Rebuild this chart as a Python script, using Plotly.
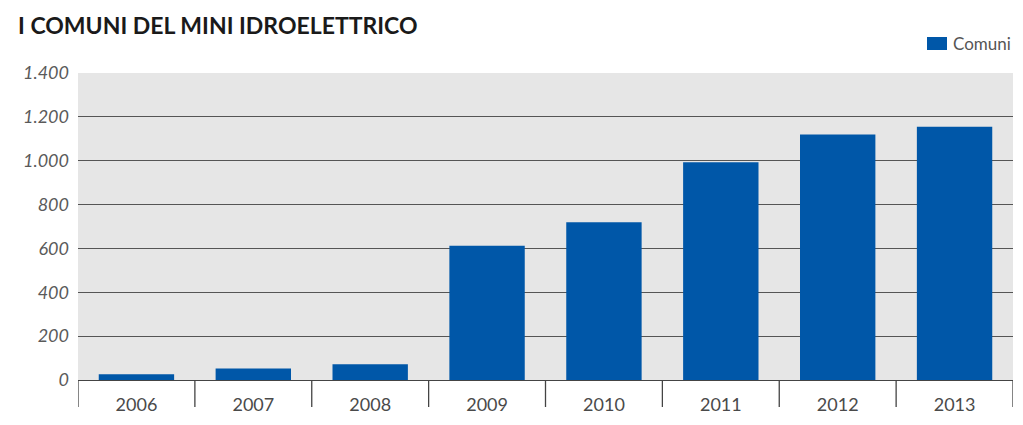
import plotly.graph_objects as go

years = ["2006", "2007", "2008", "2009", "2010", "2011", "2012", "2013"]
comuni = [26, 52, 72, 612, 719, 993, 1120, 1155]
y_ticks = [0, 200, 400, 600, 800, 1000, 1200, 1400]
y_ticktext = ["0", "200", "400", "600", "800", "1.000", "1.200", "1.400"]
series_name = "Comuni"

BLUE = "#0057A8"
FONT = "Lato"

fig = go.Figure()
fig.add_trace(go.Bar(
    x=years, y=comuni, name=series_name,
    marker=dict(color=BLUE, line=dict(width=0)),
    width=0.645, showlegend=False,
))

W, H = 1023, 425
L, R, T, B = 78, 10, 73, 45
plot_h = H - T - B
plot_w = W - L - R

def px_x(px):
    return (px - L) / plot_w

def px_y(py):
    return (H - B - py) / plot_h

# separators between categories
for i in range(len(years) + 1):
    fig.add_shape(type="line", xref="x", yref="paper",
                  x0=i - 0.5, x1=i - 0.5, y0=0, y1=-27 / plot_h,
                  line=dict(color="#444444", width=1.3))

# legend swatch and label
fig.add_shape(type="rect", xref="paper", yref="paper",
              x0=px_x(927), x1=px_x(947), y0=px_y(50), y1=px_y(37),
              fillcolor=BLUE, line=dict(width=0))
fig.add_annotation(xref="paper", yref="paper", x=px_x(951), y=px_y(44),
                   xanchor="left", yanchor="middle", showarrow=False,
                   text=series_name,
                   font=dict(family=FONT, size=17, color="#555555"))

fig.update_layout(
    width=W, height=H,
    margin=dict(l=L, r=R, t=T, b=B),
    paper_bgcolor="white",
    plot_bgcolor="#e6e6e6",
    separators=",.",
    title=dict(text="<b>I COMUNI DEL MINI IDROELETTRICO</b>",
               x=18 / W, xanchor="left", y=1 - 26 / H, yanchor="middle",
               font=dict(family=FONT, size=23, color="#1a1a1a")),
    showlegend=False,
    bargap=0.355,
)
fig.update_xaxes(
    type="category",
    range=[-0.5, len(years) - 0.5],
    showgrid=False,
    showline=True, linecolor="#444444", linewidth=1.3,
    ticks="",
    tickfont=dict(family=FONT, size=18, color="#4a4a4a"),
    ticklabelstandoff=8,
)
fig.update_yaxes(
    range=[0, 1400],
    tickvals=y_ticks, ticktext=y_ticktext,
    showgrid=True, gridcolor="#555555", gridwidth=1.3,
    zeroline=False, showline=False, ticks="",
    tickfont=dict(family=FONT, size=18, color="#5a5a5a", style="italic"),
    ticklabelstandoff=8,
)

fig.write_html("out.html")
